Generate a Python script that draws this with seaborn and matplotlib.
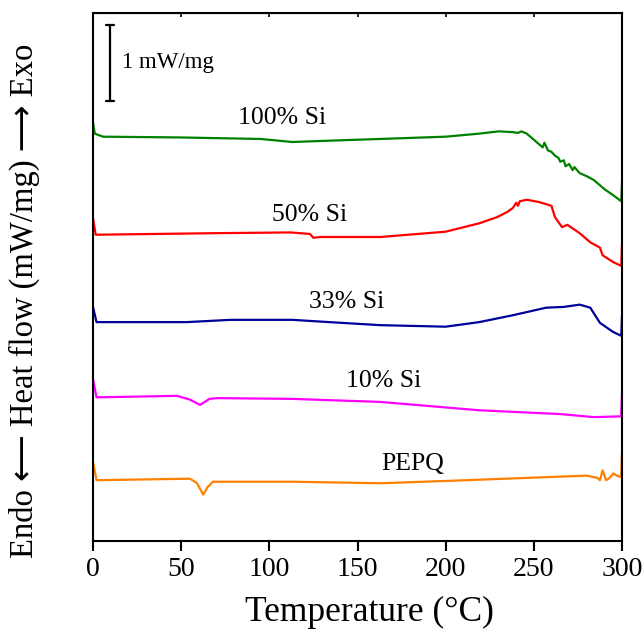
import matplotlib
matplotlib.use("Agg")
import matplotlib.pyplot as plt
import seaborn as sns
import pandas as pd

# ---- data (heat flow, stacked, mW/mg) ----
t_100 = [0, 1, 5.7, 49, 95, 113, 125, 150, 163, 200, 219, 230, 238, 241, 243, 246, 250, 253, 255, 256,
         258, 260, 262, 264, 265, 267, 268, 270, 272, 273, 276, 280, 284, 290, 295, 299.6, 300]
y_100 = [5.51, 5.36, 5.32, 5.31, 5.29, 5.25, 5.26, 5.28, 5.29, 5.32, 5.36, 5.39, 5.38, 5.37, 5.39, 5.36,
         5.28, 5.22, 5.18, 5.24, 5.14, 5.12, 5.07, 5.04, 4.99, 5.01, 4.93, 4.96, 4.88, 4.92, 4.84, 4.80,
         4.75, 4.63, 4.55, 4.47, 4.72]

t_50 = [0, 1.5, 68, 112, 123, 125, 129, 163, 200, 219, 229, 235, 238, 240, 241, 242, 246, 253, 260, 262,
        266, 269, 271.6, 276, 282, 287.5, 289, 295, 299.6, 300]
y_50 = [4.25, 4.03, 4.05, 4.06, 4.04, 3.99, 4.00, 4.00, 4.07, 4.18, 4.26, 4.33, 4.38, 4.45, 4.41, 4.47,
        4.49, 4.46, 4.41, 4.26, 4.13, 4.16, 4.12, 4.05, 3.93, 3.86, 3.76, 3.67, 3.62, 3.92]

t_33 = [0, 2, 53, 78, 113, 134, 163, 200, 219, 238, 257, 267, 276, 282, 287.5, 295, 299.6, 300]
y_33 = [3.08, 2.88, 2.88, 2.91, 2.91, 2.88, 2.84, 2.82, 2.88, 2.97, 3.07, 3.08, 3.11, 3.07, 2.87, 2.75,
        2.70, 2.97]

t_10 = [0, 2, 47.6, 55, 60.7, 66, 70, 113, 163, 219, 265, 284, 299.5, 300]
y_10 = [2.13, 1.89, 1.91, 1.86, 1.79, 1.87, 1.88, 1.87, 1.83, 1.72, 1.67, 1.63, 1.64, 1.95]

t_pepq = [0, 2, 55, 59, 62.5, 65, 68, 113, 163, 200, 257, 280, 286, 287.5, 289, 291, 293, 295, 297,
          299.5, 300]
y_pepq = [1.04, 0.80, 0.82, 0.76, 0.61, 0.71, 0.78, 0.78, 0.76, 0.79, 0.84, 0.86, 0.83, 0.80, 0.93,
          0.80, 0.83, 0.89, 0.86, 0.84, 1.17]

series_names = ["100% Si", "50% Si", "33% Si", "10% Si", "PEPQ"]
series_t = [t_100, t_50, t_33, t_10, t_pepq]
series_y = [y_100, y_50, y_33, y_10, y_pepq]
series_colors = ["#008000", "#ff0000", "#00009a", "#ff00ff", "#ff8000"]
label_pos = [(107, 5.57), (123, 4.29), (144, 3.14), (165, 2.11), (181, 1.01)]

x_ticks = [0, 50, 100, 150, 200, 250, 300]

frames = []
for name, t, y in zip(series_names, series_t, series_y):
    frames.append(pd.DataFrame({"T": t, "HF": y, "sample": name}))
df = pd.concat(frames, ignore_index=True)

# ---- plot ----
sns.set_style("ticks")
plt.rcParams["font.family"] = ["Liberation Serif", "DejaVu Serif", "DejaVu Sans"]
plt.rcParams["text.color"] = "black"
plt.rcParams["axes.labelcolor"] = "black"
plt.rcParams["xtick.color"] = "black"
plt.rcParams["ytick.color"] = "black"
plt.rcParams["axes.edgecolor"] = "black"

fig = plt.figure(figsize=(6.43, 6.29), dpi=100)
ax = fig.add_axes([93 / 643, 1 - 541 / 629, (622 - 93) / 643, (541 - 13) / 629])

sns.lineplot(data=df, x="T", y="HF", hue="sample", palette=dict(zip(series_names, series_colors)),
             hue_order=series_names, sort=False, estimator=None, linewidth=1.6, legend=False, ax=ax)

for name, (lx, ly) in zip(series_names, label_pos):
    ax.text(lx, ly, name, ha="center", va="center", fontsize=18.5, color="black")

# scale bar 1 mW/mg
bx = 9.6
ax.plot([bx, bx], [5.79, 6.79], color="black", lw=1.6)
ax.plot([bx - 2.3, bx + 2.3], [5.79, 5.79], color="black", lw=1.6)
ax.plot([bx - 2.3, bx + 2.3], [6.79, 6.79], color="black", lw=1.6)
ax.text(16.2, 6.29, "1 mW/mg", ha="left", va="center", fontsize=16.5, color="black")

ax.set_xlim(0, 300)
ax.set_ylim(0, 528 / 76)
ax.set_xticks(x_ticks)
ax.set_yticks([])
ax.tick_params(axis="x", direction="out", length=7.5, width=1.5, labelsize=20, pad=4,
               colors="black")
sec = ax.secondary_xaxis("top")
sec.tick_params(direction="in", length=3, width=1.2, labelsize=0, labeltop=False, colors="black")
for s in ax.spines.values():
    s.set_linewidth(1.5)
    s.set_color("black")

ax.set_xlabel("Temperature (°C)", fontsize=25.5, color="black")
ax.xaxis.set_label_coords(0.522, -0.105)
ax.set_ylabel("Endo \u27F5 Heat flow (mW/mg) \u27F6 Exo", fontsize=23.5, color="black",
              family=["Liberation Serif", "DejaVu Sans"])
ax.yaxis.set_label_coords(-0.10, 0.455)

fig.savefig("out.png", dpi=100)
